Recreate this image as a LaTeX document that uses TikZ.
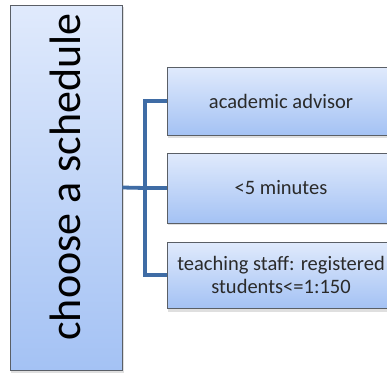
\documentclass[tikz,border=0pt]{standalone}
\usepackage{fontspec}
\setmainfont{Carlito}
\usetikzlibrary{calc}

\definecolor{boxtop}{HTML}{E0EAFC}
\definecolor{boxbot}{HTML}{A4C2F4}
\definecolor{boxline}{HTML}{5A5F66}
\definecolor{linkblue}{HTML}{3F6CA5}
\definecolor{txt}{HTML}{2A2A2A}

\tikzset{
  schedbox/.style={draw=boxline, line width=0.8pt, top color=boxtop,
    bottom color=boxbot, inner sep=0pt, align=center, text=txt},
  item/.style={schedbox, minimum width=228pt, font=\fontsize{20.5}{23}\selectfont},
  link/.style={draw=linkblue, line width=3.8pt}
}

\begin{document}
\begin{tikzpicture}[x=1pt, y=-1pt]
      \useasboundingbox (0, 0) rectangle (387, 375);
      % soft shadows under the boxes
      \fill[gray!25] (11, 7) rectangle (124, 373);
      \foreach \yy in {101, 188, 275}
        \fill[gray!25] (168, \yy-32) rectangle (397, \yy+37);
      \node[schedbox, minimum width=112pt, minimum height=365pt] (main) at (66, 187.5) {};
      \node[rotate=90, anchor=base, font=\fontsize{44}{46}\selectfont, text=black] (title) at (80, 177) {choose a schedule};
      \node[item, minimum height=68pt] (n1) at (281, 101) {academic advisor};
      \node[item, minimum height=70pt] (n2) at (281, 188) {<5 minutes};
      \node[item, minimum height=66pt] (n3) at (281, 275) {teaching staff: registered\\ students<=1:150};
      \coordinate (fork) at (145, 188);
      \path[link] (main.east) -- (fork);
      \path[link] (fork) -- (n2.west);
      \path[link] (fork) |- (n1.west);
      \path[link] (fork) |- (n3.west);
    \end{tikzpicture}
\end{document}
